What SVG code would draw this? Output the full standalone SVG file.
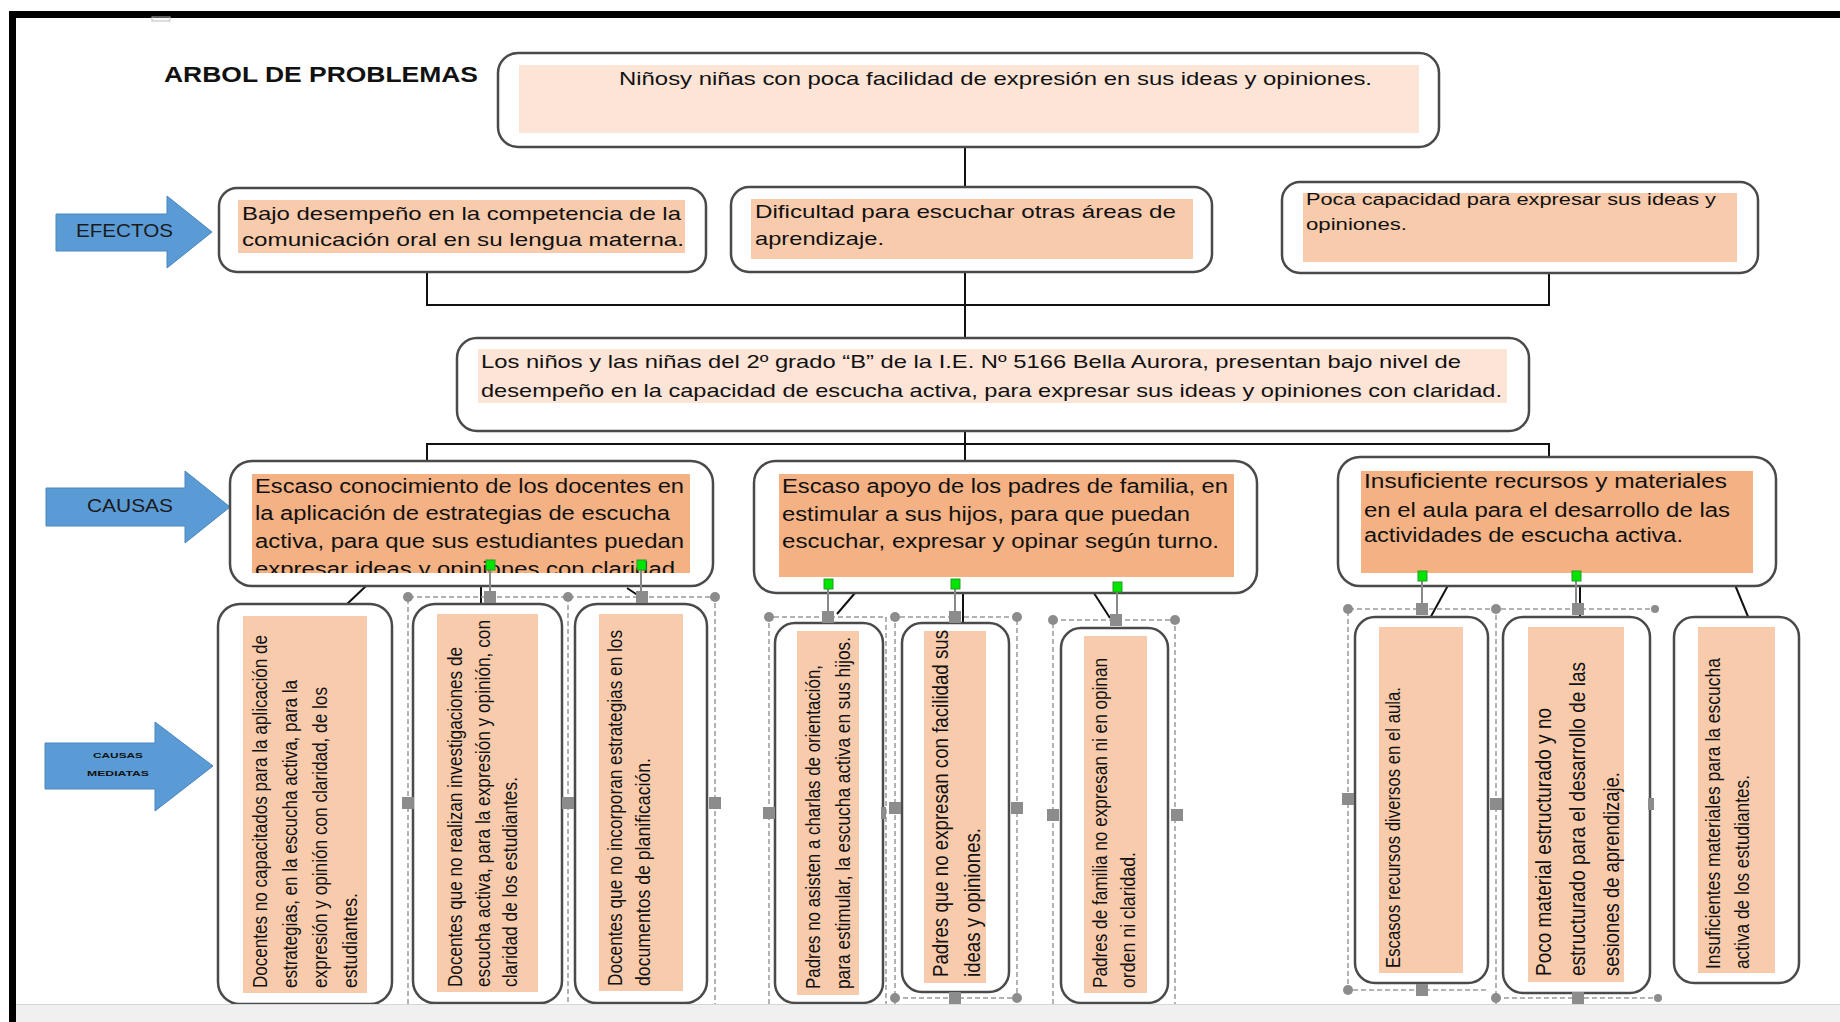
<svg xmlns="http://www.w3.org/2000/svg" width="1840" height="1022" viewBox="0 0 1840 1022">
<style>
.box{fill:#fff;stroke:#4a4a4a;stroke-width:2.5}
.f1{fill:#fce4d6}
.f2{fill:#f8cbad}
.f3{fill:#f4b183}
.t{font-family:"Liberation Sans Narrow","Liberation Sans",Arial,sans-serif;font-size:19px;fill:#111}
.tv{font-family:"Liberation Sans Narrow","Liberation Sans",Arial,sans-serif;font-size:19.5px;fill:#111}
.tvb{font-family:"Liberation Sans Narrow","Liberation Sans",Arial,sans-serif;font-size:22px;fill:#111}
.arrow{fill:#5b9bd5;stroke:#4a86c0;stroke-width:1}
.lab{font-family:"Liberation Sans Narrow","Liberation Sans",Arial,sans-serif;font-size:18px;fill:#1a1a1a}
.con{stroke:#111;stroke-width:2;fill:none}
.sel{stroke:#9a9a9a;stroke-width:1.5;stroke-dasharray:5 3;fill:none}
.gl{stroke:#888;stroke-width:2;fill:none}
.hc{fill:#8c8c8c}
.hs{fill:#8c8c8c}
.gd{fill:#00e600;stroke:#2a9a2a;stroke-width:1}
</style>
<defs>
<clipPath id="clipC1"><rect x="252" y="474" width="438" height="99"/></clipPath>
</defs>
<rect x="0" y="0" width="1840" height="1022" fill="#fff"/>

<!-- frame -->
<rect x="9" y="11" width="1831" height="7" fill="#000"/>
<rect x="9" y="11" width="7" height="1011" fill="#000"/>
<rect x="152" y="17" width="18" height="4" fill="none" stroke="#bbb" stroke-width="1"/>

<text x="164" y="82" style="font-family:'Liberation Sans',Arial,sans-serif;font-size:22px;font-weight:bold;fill:#111" textLength="314" lengthAdjust="spacingAndGlyphs">ARBOL DE PROBLEMAS</text>

<!-- connectors -->
<g id="connectors">
<line class="con" x1="965" y1="147" x2="965" y2="187"/>
<line class="con" x1="965" y1="272" x2="965" y2="338"/>
<polyline class="con" points="427,272 427,305 1549,305 1549,273"/>
<line class="con" x1="965" y1="431" x2="965" y2="461"/>
<polyline class="con" points="427,461 427,444 1549,444 1549,457"/>
<line class="con" x1="366" y1="586" x2="346" y2="605"/>
<line class="con" x1="481" y1="583" x2="481" y2="604"/>
<line class="con" x1="627" y1="588" x2="642" y2="598"/>
<line class="con" x1="855" y1="593" x2="837" y2="614"/>
<line class="con" x1="963" y1="587" x2="963" y2="628"/>
<line class="con" x1="1090" y1="587" x2="1110" y2="618"/>
<line class="con" x1="1451" y1="580" x2="1429" y2="620"/>
<line class="con" x1="1580" y1="576" x2="1580" y2="617"/>
<line class="con" x1="1733" y1="580" x2="1749" y2="619"/>
</g>

<!-- arrows -->
<g id="efectos">
<polygon class="arrow" points="56,214 167,214 167,196 212,232 167,268 167,251 56,251"/>
<text class="lab" x="76" y="237" textLength="97" lengthAdjust="spacingAndGlyphs">EFECTOS</text>
</g>
<g id="causas">
<polygon class="arrow" points="46,488 185,488 185,471 230,507 185,543 185,526 46,526"/>
<text class="lab" x="87" y="512" textLength="86" lengthAdjust="spacingAndGlyphs">CAUSAS</text>
</g>
<g id="causas-mediatas">
<polygon class="arrow" points="45,743 155,743 155,722 213,766 155,811 155,789 45,789"/>
<text x="93" y="758" style="font-family:'Liberation Sans',Arial,sans-serif;font-size:8px;font-weight:bold;fill:#111" textLength="50" lengthAdjust="spacingAndGlyphs">CAUSAS</text>
<text x="87" y="776" style="font-family:'Liberation Sans',Arial,sans-serif;font-size:8px;font-weight:bold;fill:#111" textLength="62" lengthAdjust="spacingAndGlyphs">MEDIATAS</text>
</g>

<!-- top problem -->
<g id="n-top">
<rect class="box" x="498" y="53" width="941" height="94" rx="20"/>
<rect class="f1" x="519" y="65" width="900" height="68"/>
<text class="t" x="619" y="85" textLength="753" lengthAdjust="spacingAndGlyphs">Niñosy niñas  con poca facilidad de expresión en sus ideas y opiniones.</text>
</g>

<!-- effects -->
<g id="e1">
<rect class="box" x="219" y="188" width="487" height="84" rx="18"/>
<rect class="f2" x="238" y="200" width="447" height="53"/>
<text class="t" x="242" y="220" textLength="439" lengthAdjust="spacingAndGlyphs">Bajo desempeño en la competencia de la</text>
<text class="t" x="242" y="246" textLength="442" lengthAdjust="spacingAndGlyphs">comunicación oral en su lengua materna.</text>
</g>
<g id="e2">
<rect class="box" x="731" y="187" width="481" height="85" rx="18"/>
<rect class="f2" x="751" y="199" width="442" height="60"/>
<text class="t" x="755" y="218" textLength="421" lengthAdjust="spacingAndGlyphs">Dificultad para escuchar otras  áreas de</text>
<text class="t" x="755" y="245" textLength="129" lengthAdjust="spacingAndGlyphs">aprendizaje.</text>
</g>
<g id="e3">
<rect class="box" x="1282" y="182" width="476" height="91" rx="18"/>
<rect class="f2" x="1303" y="193" width="434" height="69"/>
<text class="t" style="font-size:16px" x="1306" y="205" textLength="410" lengthAdjust="spacingAndGlyphs">Poca capacidad para expresar sus ideas y</text>
<text class="t" style="font-size:16px" x="1306" y="230" textLength="101" lengthAdjust="spacingAndGlyphs">opiniones.</text>
</g>

<!-- main problem -->
<g id="n-main">
<rect class="box" x="457" y="338" width="1072" height="93" rx="20"/>
<rect class="f1" x="478" y="349" width="1029" height="54"/>
<text class="t" x="481" y="368" textLength="980" lengthAdjust="spacingAndGlyphs">Los niños y las niñas del 2º grado “B” de la I.E. Nº 5166 Bella Aurora, presentan bajo nivel de</text>
<text class="t" x="481" y="397" textLength="1021" lengthAdjust="spacingAndGlyphs">desempeño en la capacidad de escucha activa, para expresar sus ideas y opiniones con claridad.</text>
</g>

<!-- causes -->
<g id="c1">
<rect class="box" x="230" y="461" width="483" height="125" rx="22"/>
<rect class="f3" x="252" y="474" width="438" height="99"/>
<text class="t" style="font-size:20px" x="255" y="493" textLength="429" lengthAdjust="spacingAndGlyphs">Escaso conocimiento de los docentes en</text>
<text class="t" style="font-size:20px" x="255" y="520" textLength="415" lengthAdjust="spacingAndGlyphs">la aplicación de estrategias de escucha</text>
<text class="t" style="font-size:20px" x="255" y="548" textLength="429" lengthAdjust="spacingAndGlyphs">activa, para que sus estudiantes puedan</text>
<text class="t" style="font-size:20px" x="255" y="576" textLength="420" lengthAdjust="spacingAndGlyphs" clip-path="url(#clipC1)">expresar ideas y opiniones con claridad</text>
</g>
<g id="c2">
<rect class="box" x="754" y="461" width="503" height="132" rx="22"/>
<rect class="f3" x="779" y="474" width="455" height="103"/>
<text class="t" style="font-size:20px" x="782" y="493" textLength="446" lengthAdjust="spacingAndGlyphs">Escaso apoyo de los padres de familia, en</text>
<text class="t" style="font-size:20px" x="782" y="521" textLength="408" lengthAdjust="spacingAndGlyphs">estimular a sus hijos, para que puedan</text>
<text class="t" style="font-size:20px" x="782" y="548" textLength="437" lengthAdjust="spacingAndGlyphs">escuchar, expresar  y opinar según turno.</text>
</g>
<g id="c3">
<rect class="box" x="1338" y="457" width="438" height="129" rx="22"/>
<rect class="f3" x="1361" y="471" width="392" height="102"/>
<text class="t" style="font-size:20px" x="1364" y="488" textLength="363" lengthAdjust="spacingAndGlyphs">Insuficiente recursos y materiales</text>
<text class="t" style="font-size:20px" x="1364" y="517" textLength="366" lengthAdjust="spacingAndGlyphs">en el aula para el desarrollo de las</text>
<text class="t" style="font-size:20px" x="1364" y="542" textLength="319" lengthAdjust="spacingAndGlyphs">actividades de escucha activa.</text>
</g>

<!-- sub-causes -->
<g id="b1">
<rect class="box" x="218" y="604" width="174" height="400" rx="22"/>
<rect class="f2" x="243" y="616" width="124" height="377"/>
<text class="tv" transform="translate(267,988) rotate(-90)" textLength="353" lengthAdjust="spacingAndGlyphs">Docentes no capacitados para la aplicación de</text>
<text class="tv" transform="translate(297,988) rotate(-90)" textLength="308" lengthAdjust="spacingAndGlyphs">estrategias, en la escucha activa, para la</text>
<text class="tv" transform="translate(327,988) rotate(-90)" textLength="301" lengthAdjust="spacingAndGlyphs">expresión y opinión con claridad, de los</text>
<text class="tv" transform="translate(357,988) rotate(-90)" textLength="95" lengthAdjust="spacingAndGlyphs">estudiantes.</text>
</g>
<g id="b2">
<rect class="box" x="413" y="604" width="149" height="399" rx="22"/>
<rect class="f2" x="437" y="614" width="101" height="378"/>
<text class="tv" transform="translate(462,987) rotate(-90)" textLength="340" lengthAdjust="spacingAndGlyphs">Docentes que no realizan investigaciones de</text>
<text class="tv" transform="translate(490,987) rotate(-90)" textLength="367" lengthAdjust="spacingAndGlyphs">escucha activa, para la expresión y opinión, con</text>
<text class="tv" transform="translate(517,987) rotate(-90)" textLength="210" lengthAdjust="spacingAndGlyphs">claridad de los estudiantes.</text>
</g>
<g id="b3">
<rect class="box" x="575" y="604" width="132" height="399" rx="22"/>
<rect class="f2" x="599" y="614" width="84" height="377"/>
<text class="tv" transform="translate(622,986) rotate(-90)" textLength="356" lengthAdjust="spacingAndGlyphs">Docentes que no incorporan estrategias en los</text>
<text class="tv" transform="translate(650,986) rotate(-90)" textLength="228" lengthAdjust="spacingAndGlyphs">documentos de planificación.</text>
</g>
<g id="b4">
<rect class="box" x="775" y="623" width="108" height="380" rx="20"/>
<rect class="f2" x="797" y="631" width="62" height="364"/>
<text class="tv" transform="translate(820,989) rotate(-90)" textLength="324" lengthAdjust="spacingAndGlyphs">Padres no asisten a charlas de orientación,</text>
<text class="tv" transform="translate(850,989) rotate(-90)" textLength="352" lengthAdjust="spacingAndGlyphs">para estimular, la escucha activa en sus hijos.</text>
</g>
<g id="b5">
<rect class="box" x="902" y="623" width="107" height="369" rx="20"/>
<rect class="f2" x="924" y="631" width="62" height="352"/>
<text class="tvb" transform="translate(948,977) rotate(-90)" textLength="347" lengthAdjust="spacingAndGlyphs">Padres que no  expresan con facilidad sus</text>
<text class="tvb" transform="translate(980,977) rotate(-90)" textLength="149" lengthAdjust="spacingAndGlyphs">ideas y opiniones.</text>
</g>
<g id="b6">
<rect class="box" x="1061" y="628" width="107" height="375" rx="20"/>
<rect class="f2" x="1084" y="636" width="63" height="357"/>
<text class="tv" transform="translate(1107,988) rotate(-90)" textLength="330" lengthAdjust="spacingAndGlyphs">Padres de familia no expresan ni en opinan</text>
<text class="tv" transform="translate(1135,988) rotate(-90)" textLength="136" lengthAdjust="spacingAndGlyphs">orden ni claridad.</text>
</g>
<g id="b7">
<rect class="box" x="1355" y="617" width="133" height="366" rx="20"/>
<rect class="f2" x="1379" y="627" width="84" height="346"/>
<text class="tv" transform="translate(1400,968) rotate(-90)" textLength="281" lengthAdjust="spacingAndGlyphs">Escasos  recursos diversos en el aula.</text>
</g>
<g id="b8">
<rect class="box" x="1503" y="617" width="147" height="376" rx="20"/>
<rect class="f2" x="1528" y="627" width="96" height="355"/>
<text class="tvb" transform="translate(1551,976) rotate(-90)" textLength="268" lengthAdjust="spacingAndGlyphs">Poco material estructurado y no</text>
<text class="tvb" transform="translate(1585,976) rotate(-90)" textLength="314" lengthAdjust="spacingAndGlyphs">estructurado para el desarrollo de las</text>
<text class="tvb" transform="translate(1619,976) rotate(-90)" textLength="204" lengthAdjust="spacingAndGlyphs">sesiones de aprendizaje.</text>
</g>
<g id="b9">
<rect class="box" x="1674" y="617" width="125" height="366" rx="20"/>
<rect class="f2" x="1698" y="627" width="77" height="346"/>
<text class="tv" transform="translate(1720,969) rotate(-90)" textLength="311" lengthAdjust="spacingAndGlyphs">Insuficientes  materiales para la escucha</text>
<text class="tv" transform="translate(1749,969) rotate(-90)" textLength="194" lengthAdjust="spacingAndGlyphs">activa de los estudiantes.</text>
</g>

<!-- selection artifacts -->
<g id="selection">
<polyline class="sel" points="408,1004 408,597 715,597 715,1004"/>
<line class="sel" x1="568" y1="597" x2="568" y2="1004"/>
<polyline class="sel" points="769,1004 769,617 886,617 886,1004"/>
<polyline class="sel" points="895,1004 895,617 1017,617 1017,1004"/>
<line class="sel" x1="895" y1="998" x2="1017" y2="998"/>
<polyline class="sel" points="1053,1004 1053,620 1175,620 1175,1004"/>
<polyline class="sel" points="1486,990 1348,990 1348,609 1655,609"/>
<polyline class="sel" points="1496,1004 1496,609"/>
<line class="sel" x1="1496" y1="998" x2="1658" y2="998"/>
<line class="gl" x1="490" y1="565" x2="490" y2="597"/>
<line class="gl" x1="641" y1="565" x2="641" y2="597"/>
<line class="gl" x1="828" y1="584" x2="828" y2="617"/>
<line class="gl" x1="955" y1="584" x2="955" y2="617"/>
<line class="gl" x1="1117" y1="587" x2="1117" y2="620"/>
<line class="gl" x1="1422" y1="576" x2="1422" y2="609"/>
<line class="gl" x1="1576" y1="576" x2="1576" y2="609"/>
<circle class="hc" cx="408" cy="597" r="5"/><circle class="hc" cx="568" cy="597" r="5"/><circle class="hc" cx="715" cy="597" r="5"/>
<rect class="hs" x="484" y="591" width="12" height="12"/><rect class="hs" x="636" y="591" width="12" height="12"/>
<rect class="hs" x="402" y="797" width="12" height="12"/><rect class="hs" x="562" y="797" width="12" height="12"/><rect class="hs" x="709" y="797" width="12" height="12"/>
<circle class="hc" cx="769" cy="617" r="5"/><circle class="hc" cx="895" cy="617" r="5"/><circle class="hc" cx="1017" cy="617" r="5"/>
<rect class="hs" x="822" y="611" width="12" height="12"/><rect class="hs" x="949" y="611" width="12" height="12"/>
<rect class="hs" x="763" y="807" width="12" height="12"/><rect class="hs" x="881" y="807" width="5" height="12"/><rect class="hs" x="889" y="802" width="12" height="12"/><rect class="hs" x="1011" y="802" width="12" height="12"/>
<circle class="hc" cx="895" cy="998" r="5"/><circle class="hc" cx="1017" cy="998" r="5"/><rect class="hs" x="949" y="992" width="12" height="12"/>
<circle class="hc" cx="1053" cy="620" r="5"/><circle class="hc" cx="1175" cy="620" r="5"/>
<rect class="hs" x="1110" y="614" width="12" height="12"/><rect class="hs" x="1047" y="809" width="12" height="12"/><rect class="hs" x="1171" y="809" width="12" height="12"/>
<circle class="hc" cx="1348" cy="609" r="5"/><circle class="hc" cx="1496" cy="609" r="5"/><circle class="hc" cx="1348" cy="990" r="5"/>
<rect class="hs" x="1416" y="603" width="12" height="12"/><rect class="hs" x="1416" y="984" width="12" height="12"/>
<rect class="hs" x="1342" y="793" width="12" height="12"/><rect class="hs" x="1490" y="798" width="12" height="12"/>
<rect class="hs" x="1572" y="603" width="12" height="12"/><rect class="hs" x="1572" y="992" width="12" height="12"/>
<rect class="hs" x="1648" y="798" width="6" height="12"/>
<circle class="hc" cx="1496" cy="998" r="5"/><circle class="hc" cx="1655" cy="609" r="4"/><circle class="hc" cx="1658" cy="998" r="4"/>
<rect class="gd" x="486" y="560" width="9" height="10"/>
<rect class="gd" x="637" y="560" width="9" height="10"/>
<rect class="gd" x="824" y="579" width="9" height="10"/>
<rect class="gd" x="951" y="579" width="9" height="10"/>
<rect class="gd" x="1113" y="582" width="9" height="10"/>
<rect class="gd" x="1418" y="571" width="9" height="10"/>
<rect class="gd" x="1572" y="571" width="9" height="10"/>
</g>

<!-- bottom band -->
<rect x="16" y="1004" width="1824" height="18" fill="#f0f0f0"/>
<line x1="16" y1="1004.5" x2="1840" y2="1004.5" stroke="#d6d6d6" stroke-width="1"/>
</svg>
